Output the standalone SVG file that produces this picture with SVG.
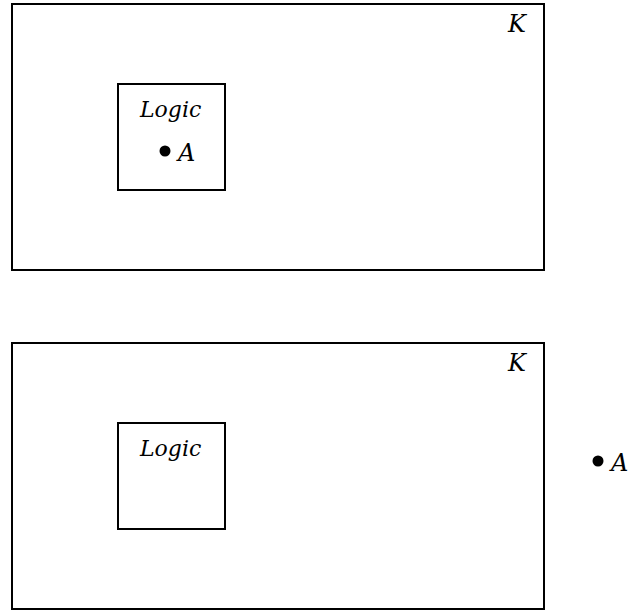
<svg xmlns="http://www.w3.org/2000/svg" width="636" height="610" viewBox="0 0 636 610">
<style>
.box{fill:none;stroke:#000;stroke-width:2}
.t{font-family:"DejaVu Serif","Liberation Serif",serif;font-style:italic;font-size:22px;fill:#000}
.b{font-size:24px}
</style>
<rect width="636" height="610" fill="#fff"/>
<g id="top">
<g id="K1"><rect class="box" x="12" y="4" width="532" height="266"/><text class="t b" x="508" y="32">K</text></g>
<g id="Logic1"><rect class="box" x="118" y="84" width="107" height="106"/><text class="t" x="140" y="117">Logic</text></g>
<g id="A1"><circle cx="165" cy="151" r="5.5"/><text class="t b" x="178" y="161">A</text></g>
</g>
<g id="bottom">
<g id="K2"><rect class="box" x="12" y="343" width="532" height="266"/><text class="t b" x="508" y="371">K</text></g>
<g id="Logic2"><rect class="box" x="118" y="423" width="107" height="106"/><text class="t" x="140" y="456">Logic</text></g>
<g id="A2"><circle cx="598" cy="461" r="5.5"/><text class="t b" x="611" y="471">A</text></g>
</g>
<g id="connectors"/>
</svg>
